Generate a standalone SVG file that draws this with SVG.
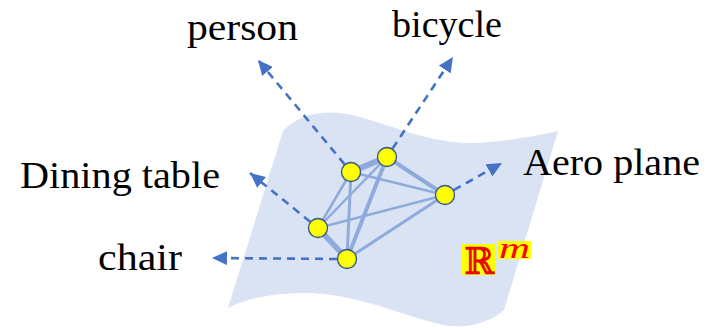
<svg xmlns="http://www.w3.org/2000/svg" width="714" height="328" viewBox="0 0 714 328">
<defs>
<style>
.lbl{font-family:"Liberation Serif","Times New Roman",serif;font-size:38px;fill:#000}
.edge{stroke:#8faadc;fill:none;stroke-linecap:round}
.dash{stroke:#4472c4;stroke-width:2.6;stroke-dasharray:8 6;fill:none;marker-end:url(#ah)}
.node{fill:#ffff00;stroke:#2f528f;stroke-width:1.3}
</style>
<marker id="ah" markerUnits="userSpaceOnUse" markerWidth="16" markerHeight="14" refX="15" refY="7" orient="auto">
<path d="M0,0 L15,7 L0,14 Z" fill="#4472c4"/>
</marker>
</defs>
<rect width="714" height="328" fill="#fff"/>
<path id="sheet" d="M283,131 C300,112 330,108 360,117 C400,128 440,148 490,142 C520,139 545,134 558,131 L504,310 C490,322 470,328 450,326 C410,320 360,292 300,293 C262,294 242,301 228,308 Z" fill="#dae3f3"/>
<g id="connectors">
<line class="edge" x1="351" y1="172" x2="387" y2="157" stroke-width="6"/>
<line class="edge" x1="318" y1="228" x2="347" y2="259" stroke-width="5.5"/>
<line class="edge" x1="387" y1="157" x2="347" y2="259" stroke-width="4"/>
<line class="edge" x1="387" y1="157" x2="445" y2="195" stroke-width="4"/>
<line class="edge" x1="351" y1="172" x2="445" y2="195" stroke-width="2.5"/>
<line class="edge" x1="351" y1="172" x2="318" y2="228" stroke-width="2.5"/>
<line class="edge" x1="351" y1="172" x2="347" y2="259" stroke-width="3"/>
<line class="edge" x1="387" y1="157" x2="318" y2="228" stroke-width="2.5"/>
<line class="edge" x1="318" y1="228" x2="445" y2="195" stroke-width="2.5"/>
<line class="edge" x1="347" y1="259" x2="445" y2="195" stroke-width="3"/>
<line class="dash" x1="344.6" y1="164.3" x2="258" y2="60"/>
<line class="dash" x1="392.5" y1="148.6" x2="453" y2="57"/>
<line class="dash" x1="453.7" y1="190.1" x2="502" y2="163"/>
<line class="dash" x1="310.2" y1="221.7" x2="250" y2="173"/>
<line class="dash" x1="337" y1="259" x2="212" y2="258"/>
</g>
<g id="n-person"><circle class="node" cx="351" cy="172" r="9.5"/></g>
<g id="n-bicycle"><circle class="node" cx="387" cy="157" r="9.5"/></g>
<g id="n-aero"><circle class="node" cx="445" cy="195" r="9.5"/></g>
<g id="n-dining"><circle class="node" cx="318" cy="228" r="9.5"/></g>
<g id="n-chair"><circle class="node" cx="347" cy="259" r="9.5"/></g>
<g id="labels">
<text class="lbl" x="187" y="40" textLength="111" lengthAdjust="spacingAndGlyphs">person</text>
<text class="lbl" x="392" y="37" textLength="110" lengthAdjust="spacingAndGlyphs">bicycle</text>
<text class="lbl" x="20" y="188" textLength="200" lengthAdjust="spacingAndGlyphs">Dining table</text>
<text class="lbl" x="98" y="270" textLength="84" lengthAdjust="spacingAndGlyphs">chair</text>
<text class="lbl" x="523" y="175" textLength="177" lengthAdjust="spacingAndGlyphs">Aero plane</text>
</g>
<g id="space-label">
<rect x="462" y="244" width="33" height="31" fill="#ffff00"/>
<rect x="497" y="241" width="34" height="18" fill="#ffff00"/>
<text x="464" y="274" font-family="DejaVu Serif,serif" font-size="37" fill="#ff0000" stroke="#c00000" stroke-width="0.6" textLength="30" lengthAdjust="spacingAndGlyphs">ℝ</text>
<text x="499" y="258" font-family="Liberation Serif,serif" font-style="italic" font-size="30" fill="#ff0000" textLength="31" lengthAdjust="spacingAndGlyphs">m</text>
</g>
</svg>
